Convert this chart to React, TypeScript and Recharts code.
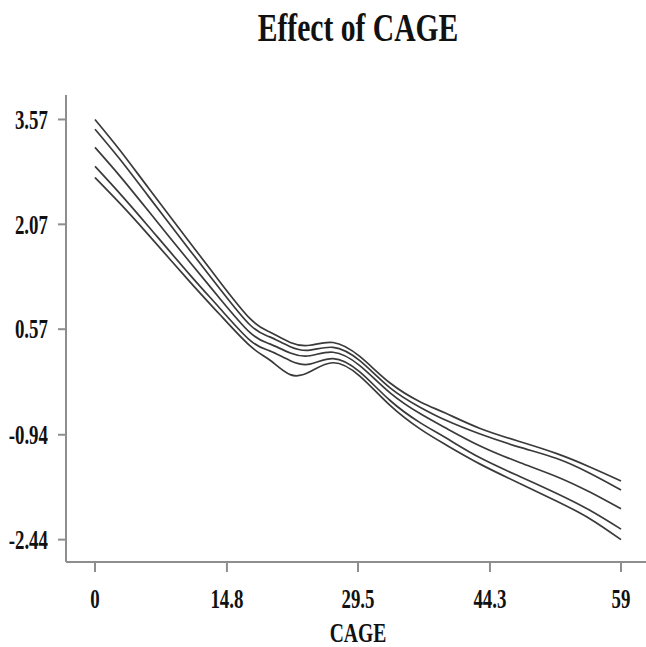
import React from 'react';
import { LineChart, Line, XAxis, YAxis } from 'recharts';

// CAGE grid and the five curves (upper band .. lower band)
const cage = [0, 2.8, 6, 10.7, 14, 17.4, 19.6, 21.9, 24.1, 26.7, 29.7, 33.1, 36.5, 39.3, 43.2, 47.7, 51.8, 55.5, 59];
const upperOuter = [3.57, 3.13, 2.59, 1.8, 1.25, 0.72, 0.53, 0.38, 0.34, 0.38, 0.18, -0.2, -0.47, -0.63, -0.85, -1.04, -1.21, -1.4, -1.6];
const upperInner = [3.43, 3.0, 2.47, 1.69, 1.15, 0.63, 0.46, 0.32, 0.27, 0.31, 0.12, -0.27, -0.55, -0.73, -0.93, -1.12, -1.28, -1.49, -1.73];
const effect = [3.17, 2.76, 2.26, 1.52, 1.01, 0.52, 0.36, 0.23, 0.19, 0.24, 0.05, -0.34, -0.64, -0.84, -1.1, -1.34, -1.54, -1.76, -2.0];
const lowerInner = [2.9, 2.51, 2.04, 1.34, 0.87, 0.41, 0.26, 0.12, 0.07, 0.15, -0.04, -0.45, -0.77, -0.98, -1.27, -1.54, -1.78, -2.02, -2.29];
const lowerOuter = [2.74, 2.37, 1.92, 1.24, 0.78, 0.33, 0.13, -0.08, -0.04, 0.09, -0.1, -0.52, -0.86, -1.08, -1.36, -1.64, -1.89, -2.14, -2.44];

const xTicks = [0, 14.8, 29.5, 44.3, 59];
const yTicks = [-2.44, -0.94, 0.57, 2.07, 3.57];

const data = cage.map((c, i) => ({
  cage: c,
  upperOuter: upperOuter[i],
  upperInner: upperInner[i],
  effect: effect[i],
  lowerInner: lowerInner[i],
  lowerOuter: lowerOuter[i],
}));

const serif = '"Liberation Serif", "Times New Roman", serif';
const axisGray = '#8e8e8e';
const lineColor = '#3a3a3a';

const YTick = (props: any) => {
  const { x, y, payload } = props;
  return (
    <g transform={`translate(${x},${y})`}>
      <text transform="scale(0.7,1)" textAnchor="end" dy="0.34em" fontFamily={serif} fontWeight="bold" fontSize={27} fill="#111">
        {payload.value}
      </text>
    </g>
  );
};

const XTick = (props: any) => {
  const { x, y, payload } = props;
  return (
    <g transform={`translate(${x},${y})`}>
      <text transform="scale(0.7,1)" textAnchor="middle" dy={32} fontFamily={serif} fontWeight="bold" fontSize={27} fill="#111">
        {payload.value}
      </text>
    </g>
  );
};

const seriesKeys = ['upperOuter', 'upperInner', 'effect', 'lowerInner', 'lowerOuter'];

export default function App() {
  return (
    <div style={{ position: 'absolute', left: 0, top: 0, width: 646, height: 647, overflow: 'hidden', background: '#fff' }}>
      <div
        style={{
          position: 'absolute', top: 4, left: 0, width: 716, textAlign: 'center',
          fontFamily: serif, fontWeight: 'bold', fontSize: 40, color: '#111',
          transform: 'scaleX(0.74)', transformOrigin: '358px 0',
        }}
      >
        Effect of CAGE
      </div>
      <LineChart width={650} height={647} data={data} margin={{ top: 95, right: 0, bottom: 0, left: 0 }}>
        <XAxis
          xAxisId="top"
          orientation="top"
          dataKey="cage"
          type="number"
          domain={[-3.25, 62.25]}
          height={0}
          tick={false}
          tickLine={false}
          axisLine={{ stroke: axisGray, strokeWidth: 2 }}
        />
        <XAxis
          dataKey="cage"
          type="number"
          domain={[-3.25, 62.25]}
          ticks={xTicks}
          height={85}
          tickSize={10}
          tickMargin={4}
          tick={<XTick />}
          tickLine={{ stroke: axisGray, strokeWidth: 2 }}
          axisLine={{ stroke: axisGray, strokeWidth: 2 }}
        />
        <YAxis
          type="number"
          domain={[-2.76, 3.92]}
          ticks={yTicks}
          width={66}
          tickSize={8}
          tickMargin={10}
          tick={<YTick />}
          tickLine={{ stroke: axisGray, strokeWidth: 2 }}
          axisLine={{ stroke: axisGray, strokeWidth: 2 }}
        />
        {seriesKeys.map((k) => (
          <Line
            key={k}
            type="natural"
            dataKey={k}
            stroke={lineColor}
            strokeWidth={1.7}
            dot={false}
            isAnimationActive={false}
          />
        ))}
      </LineChart>
      <div
        style={{
          position: 'absolute', top: 617, left: 0, width: 716, textAlign: 'center',
          fontFamily: serif, fontWeight: 'bold', fontSize: 28, color: '#111',
          transform: 'scaleX(0.7)', transformOrigin: '358px 0',
        }}
      >
        CAGE
      </div>
    </div>
  );
}
